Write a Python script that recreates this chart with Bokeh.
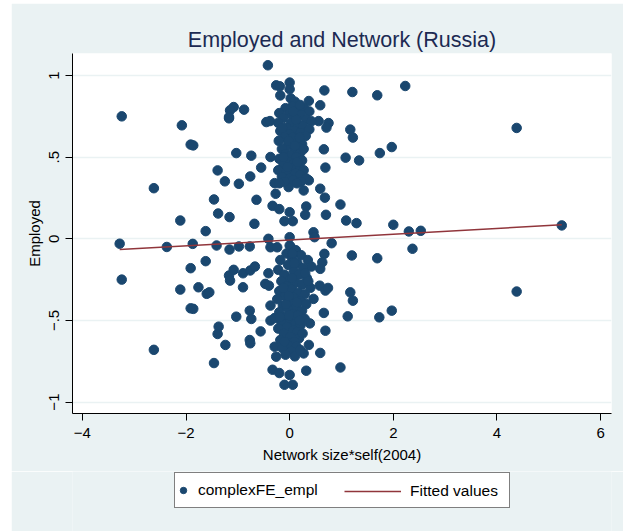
from bokeh.plotting import figure
from bokeh.models import FixedTicker, Legend, LegendItem, Range1d, Spacer
from bokeh.layouts import row, column
from bokeh.embed import file_html
from bokeh.resources import INLINE

# ---- data ----
# scattered points
fringe_x = [-0.42, -0.26, -0.19, 0.00, 0.00, -0.18, 0.67, 1.21, 1.69, -1.08,
            -1.15, -1.17, -1.17, -0.88, -2.08, -1.91, -1.86, -0.45, -0.38, 0.37,
            0.59, 0.56, 0.75, 0.71, 1.17, 1.22, 0.66, 1.08, 1.34, 1.74,
            -1.03, -0.74, -0.55, -1.39, -1.25, -0.98, -0.76, -0.37, -0.29, -0.27,
            -0.02, 0.27, 0.37, 0.59, 0.68, 0.69, 0.98, 0.70, -1.46, -1.38,
            -1.16, -0.64, -0.68, -0.33, -0.20, 0.00, -0.10, 0.06, 0.32, 0.30,
            1.09, 1.29, -2.11, -1.62, 0.46, 0.48, -1.87, -1.41, -1.16, -0.98,
            -0.77, -0.41, -0.37, -0.24, 0.00, 0.00, 0.81,
            -1.62, -1.91, -2.11, -1.76, -1.60, -1.55, -1.91, -1.86, -1.46, -1.24,
            -1.37, -1.39, -1.17, -1.15, -1.08, -0.90, -0.90, -0.76, -0.67, -1.03,
            -0.77, -0.74, -0.56, -0.77, -0.76, -0.41, -0.47, -0.40, -0.37, -0.37,
            -0.29, -0.29, -0.26, -0.33, -0.20, 0.00, -0.10, 0.06, 0.32, 0.27,
            0.59, 0.98, 0.69, 0.66, 0.37, 0.39, 0.46, 0.58, 0.67, 0.63,
            0.59, 0.69, 0.74, 1.20, 1.69, 1.17, 1.22, 1.12, 1.73,
            2.23, 4.38, 1.97, 2.00, 2.30, 2.53, 5.25, 2.37, 4.38, 1.97,
            -3.24, -3.28, -3.24, -2.62, -2.62, -2.37]
fringe_y = [1.063, 0.940, 0.934, 0.957, 0.916, 0.878, 0.909, 0.899, 0.879, 0.807,
            0.787, 0.746, 0.738, 0.791, 0.695, 0.577, 0.572, 0.715, 0.721, 0.844,
            0.818, 0.721, 0.709, 0.681, 0.669, 0.620, 0.548, 0.497, 0.480, 0.525,
            0.525, 0.509, 0.436, 0.419, 0.352, 0.337, 0.382, 0.501, 0.341, 0.276,
            0.317, 0.296, 0.358, 0.307, 0.252, 0.436, 0.210, 0.147, 0.241, 0.155,
            0.133, 0.239, 0.092, 0.202, 0.182, 0.163, 0.108, 0.108, 0.198, 0.147,
            0.112, 0.096, 0.112, 0.047, 0.040, 0.010, -0.031, -0.041, -0.066, -0.047,
            -0.047, 0.000, -0.052, -0.052, 0.010, -0.041, -0.027,
            -0.137, -0.180, -0.311, -0.297, -0.337, -0.328, -0.426, -0.429, -0.761, -0.650,
            -0.538, -0.583, -0.225, -0.256, -0.190, -0.297, -0.211, -0.194, -0.170, -0.477,
            -0.440, -0.491, -0.567, -0.620, -0.640, -0.211, -0.276, -0.287, -0.409, -0.501,
            -0.485, -0.661, -0.722, -0.802, -0.822, -0.834, -0.894, -0.894, -0.808, -0.702,
            -0.699, -0.788, -0.563, -0.454, -0.650, -0.518, -0.368, -0.287, -0.092, -0.144,
            -0.184, -0.317, -0.301, -0.102, -0.119, -0.328, -0.379, -0.475, -0.481,
            0.936, 0.679, 0.562, 0.086, 0.045, 0.049, 0.082, -0.061, -0.323, -0.440,
            0.750, -0.030, -0.250, 0.310, -0.680, -0.050]

# dense upper cluster (around x = 0, y > 0)
upper_x = [0.02, 0.10, 0.05, -0.08, 0.15, 0.28, 0.38, -0.20, 0.00, 0.22,
           -0.12, 0.08, 0.32, 0.42, -0.22, 0.03, 0.17, 0.26, -0.06, 0.38,
           -0.18, 0.10, 0.21, 0.00, 0.31, -0.10, 0.14, -0.21, 0.05, 0.24,
           -0.04, 0.17, -0.15, 0.09, 0.21, -0.08, 0.01, 0.13, -0.20, 0.24,
           -0.02, 0.08, -0.12, 0.18, 0.03, -0.22, 0.27, -0.06, 0.11, 0.20,
           -0.15, 0.00, 0.32, 0.07, -0.10, 0.22, 0.14, -0.20,
           0.06, 0.12, -0.02, 0.19, -0.12, 0.15, -0.04, 0.10, 0.27, -0.14, 0.07, 0.20]
upper_y = [0.86, 0.84, 0.81, 0.80, 0.79, 0.80, 0.78, 0.77, 0.77, 0.76,
           0.74, 0.74, 0.73, 0.72, 0.71, 0.71, 0.70, 0.69, 0.68, 0.67,
           0.66, 0.66, 0.65, 0.64, 0.63, 0.62, 0.61, 0.60, 0.59, 0.58,
           0.57, 0.56, 0.55, 0.54, 0.53, 0.52, 0.51, 0.50, 0.49, 0.48,
           0.47, 0.46, 0.45, 0.44, 0.43, 0.42, 0.42, 0.41, 0.40, 0.39,
           0.38, 0.37, 0.37, 0.36, 0.35, 0.35, 0.34, 0.34,
           0.62, 0.73, 0.60, 0.62, 0.50, 0.47, 0.44, 0.57, 0.55, 0.68, 0.78, 0.82]

# dense lower cluster (around x = 0, y < 0)
lower_x = [0.02, 0.12, -0.06, 0.22, 0.05, -0.18, 0.35, 0.15, -0.03, 0.42,
           0.26, -0.22, 0.08, -0.10, 0.18, 0.33, 0.00, -0.16, 0.11, 0.24,
           -0.06, 0.40, 0.04, -0.20, 0.17, 0.29, -0.09, 0.08, -0.24, 0.20,
           0.00, 0.32, -0.13, 0.12, -0.03, 0.24, -0.20, 0.06, 0.16, -0.08,
           0.29, 0.02, -0.16, 0.11, 0.21, -0.05, -0.22, 0.07, 0.15, -0.11,
           0.01, 0.18, -0.18, 0.09, -0.04, 0.13, -0.14, 0.04, -0.08, 0.10,
           0.06, 0.30, -0.12, 0.14, -0.01, 0.25, 0.05, -0.07, 0.20, -0.19,
           0.09, 0.36, -0.02, 0.19, -0.10]
lower_y = [-0.05, -0.07, -0.09, -0.10, -0.12, -0.13, -0.13, -0.15, -0.16, -0.17,
           -0.18, -0.19, -0.20, -0.22, -0.22, -0.24, -0.25, -0.26, -0.27, -0.28,
           -0.29, -0.30, -0.31, -0.32, -0.33, -0.34, -0.35, -0.36, -0.37, -0.38,
           -0.39, -0.40, -0.41, -0.42, -0.43, -0.44, -0.45, -0.46, -0.47, -0.48,
           -0.49, -0.50, -0.51, -0.52, -0.53, -0.54, -0.55, -0.56, -0.57, -0.58,
           -0.60, -0.61, -0.62, -0.63, -0.65, -0.66, -0.67, -0.69, -0.71, -0.72,
           -0.09, -0.21, -0.30, -0.39, -0.47, -0.58, -0.24, -0.40, -0.68, -0.48,
           -0.15, -0.26, -0.35, -0.50, -0.63]

# fitted values line (end points)
fit_x = [-3.28, 5.25]
fit_y = [-0.066, 0.086]

x_ticks = [-4, -2, 0, 2, 4, 6]
x_tick_labels = ["\u22124", "\u22122", "0", "2", "4", "6"]
y_ticks = [-1, -0.5, 0, 0.5, 1]
y_tick_labels = ["\u22121", "\u2212.5", "0", ".5", "1"]

title_text = "Employed and Network (Russia)"
x_title = "Network size*self(2004)"
y_title = "Employed"
series_name = "complexFE_empl"
fit_name = "Fitted values"

# ---- styling ----
BG = "#EAF2F3"
NAVY = "#1A476F"
MAROON = "#90353B"
FONT = "Liberation Sans"
NAN = float("nan")

all_x = fringe_x + upper_x + lower_x
all_y = fringe_y + upper_y + lower_y

MAIN_H = 468
LEG_H = 528 - MAIN_H

p = figure(width=612, height=MAIN_H, output_backend="svg", toolbar_location=None,
           x_range=Range1d(-4.19, 6.21), y_range=Range1d(-1.07, 1.135),
           min_border_left=61, min_border_right=12, min_border_top=50,
           min_border_bottom=MAIN_H - 50 - 360)
p.background_fill_color = "white"
p.border_fill_color = BG
p.outline_line_color = None

pts = p.scatter(all_x, all_y, size=9.5, fill_color=NAVY, line_color=NAVY)
fit = p.line(fit_x, fit_y, line_color=MAROON, line_width=1.5)

# title
p.title.text = title_text
p.title.text_font = FONT
p.title.text_font_size = "21.5px"
p.title.text_font_style = "normal"
p.title.text_color = "#1C2A52"
p.title.align = "center"
p.title.standoff = 4

# grids
p.xgrid.visible = False
p.ygrid.ticker = FixedTicker(ticks=y_ticks)
p.ygrid.grid_line_color = BG
p.ygrid.grid_line_width = 1.5

# axes
for ax in (p.xaxis[0], p.yaxis[0]):
    ax.axis_line_color = "black"
    ax.major_tick_line_color = "black"
    ax.major_tick_out = 7
    ax.major_tick_in = 0
    ax.minor_tick_line_color = None
    ax.major_label_text_font = FONT
    ax.major_label_text_font_size = "15px"
    ax.major_label_text_color = "black"
    ax.axis_label_text_font = FONT
    ax.axis_label_text_font_size = "15px"
    ax.axis_label_text_font_style = "normal"
    ax.axis_label_text_color = "black"

p.xaxis.ticker = FixedTicker(ticks=x_ticks)
p.xaxis.major_label_overrides = dict(zip(x_ticks, x_tick_labels))
p.xaxis.axis_label = x_title
p.xaxis.major_label_standoff = 7
p.xaxis.axis_label_standoff = 5

p.yaxis.ticker = FixedTicker(ticks=y_ticks)
p.yaxis.major_label_overrides = dict(zip(y_ticks, y_tick_labels))
p.yaxis.major_label_orientation = "vertical"
p.yaxis.axis_label = y_title
p.yaxis.major_label_standoff = 6
p.yaxis.axis_label_standoff = 4

# ---- legend strip under the plot (same background) ----
pl = figure(width=612, height=LEG_H, output_backend="svg", toolbar_location=None,
            x_range=Range1d(0, 1), y_range=Range1d(0, 1),
            x_axis_type=None, y_axis_type=None, min_border=0)
pl.background_fill_color = BG
pl.border_fill_color = BG
pl.outline_line_color = None
pl.grid.visible = False
# legend keys styled like the plotted series (NaN = nothing drawn in the strip)
key_pts = pl.scatter([NAN], [NAN], size=9.5, fill_color=NAVY, line_color=NAVY)
key_fit = pl.line([NAN, NAN], [NAN, NAN], line_color=MAROON, line_width=1.5)

# frame of the strip is aligned with the main frame (left edge at page x = 72)
leg_a = Legend(items=[LegendItem(label=series_name, renderers=[key_pts])],
               location=(102, LEG_H - 37), orientation="horizontal",
               padding=0, margin=0, spacing=0,
               glyph_width=16, glyph_height=34, label_height=34,
               label_standoff=7, label_width=311,
               label_text_font=FONT, label_text_font_size="15.5px",
               label_text_color="black",
               border_line_color="black", border_line_width=1,
               background_fill_color="white", background_fill_alpha=1.0)
leg_b = Legend(items=[LegendItem(label=fit_name, renderers=[key_fit])],
               location=(272, LEG_H - 37), orientation="horizontal",
               padding=0, margin=0, spacing=0,
               glyph_width=57, glyph_height=34, label_height=34,
               label_standoff=9,
               label_text_font=FONT, label_text_font_size="15.5px",
               label_text_color="black",
               border_line_color=None, background_fill_alpha=0.0)
pl.add_layout(leg_a, "center")
pl.add_layout(leg_b, "center")

layout = column(Spacer(height=3), row(Spacer(width=11), column(p, pl)))
open("out.html", "w").write(file_html(layout, INLINE))
